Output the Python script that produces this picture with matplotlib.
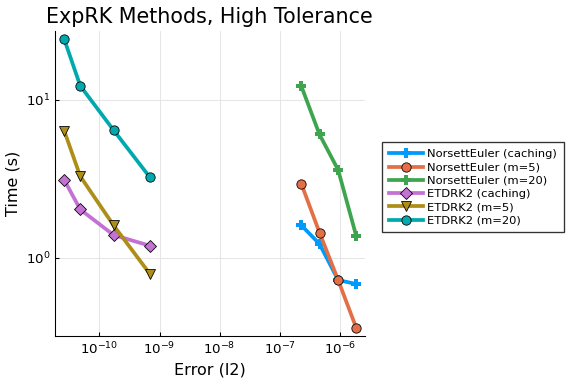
import matplotlib
matplotlib.use("Agg")
import matplotlib.pyplot as plt

# error (l2) and time (s) for each method
ne_cache_err = [2.3e-7, 4.6e-7, 9.4e-7, 1.87e-6]
ne_cache_time = [1.60, 1.22, 0.72, 0.68]
ne_m5_err = [2.3e-7, 4.6e-7, 9.4e-7, 1.87e-6]
ne_m5_time = [2.93, 1.44, 0.72, 0.36]
ne_m20_err = [2.3e-7, 4.6e-7, 9.4e-7, 1.87e-6]
ne_m20_time = [12.2, 6.04, 3.6, 1.38]
et_cache_err = [2.59e-11, 4.79e-11, 1.72e-10, 6.87e-10]
et_cache_time = [3.11, 2.02, 1.39, 1.19]
et_m5_err = [2.59e-11, 4.79e-11, 1.72e-10, 6.87e-10]
et_m5_time = [6.38, 3.28, 1.60, 0.79]
et_m20_err = [2.59e-11, 4.79e-11, 1.72e-10, 6.87e-10]
et_m20_time = [24.3, 12.3, 6.43, 3.24]

series = [
    ("NorsettEuler (caching)", ne_cache_err, ne_cache_time, "#009AFA", "P"),
    ("NorsettEuler (m=5)", ne_m5_err, ne_m5_time, "#E36F47", "o"),
    ("NorsettEuler (m=20)", ne_m20_err, ne_m20_time, "#3EA44E", "P"),
    ("ETDRK2 (caching)", et_cache_err, et_cache_time, "#C371D2", "D"),
    ("ETDRK2 (m=5)", et_m5_err, et_m5_time, "#AC8E18", "v"),
    ("ETDRK2 (m=20)", et_m20_err, et_m20_time, "#00A9AD", "o"),
]

fig = plt.figure(figsize=(6, 4), dpi=96)
ax = fig.add_axes([55 / 576, 1 - 336 / 384, 310 / 576, 305 / 384])

for name, err, t, color, mk in series:
    if mk == "P":
        ax.plot(err, t, color=color, lw=2.8, marker=mk, ms=7, mec=color, mew=0, label=name)
    else:
        ms = 6 if mk == "D" else 7
        ax.plot(err, t, color=color, lw=2.8, marker=mk, ms=ms, mfc=color, mec="black", mew=0.6, label=name)

ax.set_xscale("log")
ax.set_yscale("log")
ax.set_xlim(10 ** -10.74, 10 ** -5.58)
ax.set_ylim(0.318, 27.4)
ax.set_xticks([1e-10, 1e-9, 1e-8, 1e-7, 1e-6])
ax.set_yticks([1, 10])
ax.minorticks_off()
ax.grid(True, color="#e6e6e6", lw=0.8)
ax.set_axisbelow(True)
for s in ["top", "right"]:
    ax.spines[s].set_visible(False)
ax.tick_params(labelsize=10, direction="in", length=3)

ax.set_title("ExpRK Methods, High Tolerance", fontsize=15.5, loc="left", x=-0.03)
ax.set_xlabel("Error (l2)", fontsize=12)
ax.set_ylabel("Time (s)", fontsize=12)

ax.legend(loc="center left", bbox_to_anchor=(1.055, 0.487), fontsize=8.6, fancybox=False,
          edgecolor="#333333", framealpha=1, handlelength=3, borderpad=0.6,
          labelspacing=0.28, handletextpad=0.3, borderaxespad=0)

fig.savefig("out.png", dpi=96)
